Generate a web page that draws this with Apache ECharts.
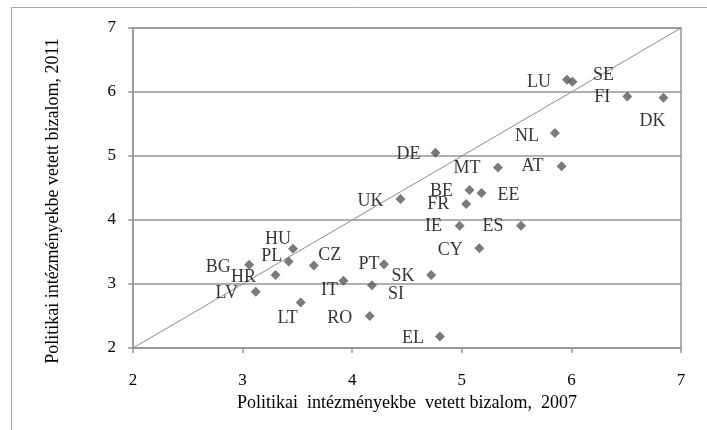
<!DOCTYPE html>
<html>
<head>
<meta charset="utf-8">
<script src="https://cdn.jsdelivr.net/npm/echarts@6/dist/echarts.min.js"></script>
<style>
  html, body { margin: 0; padding: 0; background: #fff; }
  #chart { width: 707px; height: 430px; }
</style>
</head>
<body>
<div id="chart"></div>
<script>
const countries = ["DE", "MT", "BE", "EE", "FR", "UK", "IE", "ES", "CY", "AT", "NL", "LU", "SE", "FI", "DK",
  "HU", "PL", "CZ", "PT", "SK", "SI", "IT", "HR", "BG", "LV", "LT", "RO", "EL"];
const trust2007 = [4.76, 5.33, 5.07, 5.18, 5.04, 4.44, 4.98, 5.54, 5.16, 5.91, 5.85, 5.96, 6.01, 6.51, 6.84,
  3.46, 3.42, 3.65, 4.29, 4.72, 4.18, 3.92, 3.30, 3.06, 3.12, 3.53, 4.16, 4.80];
const trust2011 = [5.05, 4.82, 4.47, 4.42, 4.25, 4.33, 3.91, 3.91, 3.56, 4.84, 5.36, 6.19, 6.16, 5.93, 5.91,
  3.55, 3.35, 3.29, 3.31, 3.14, 2.98, 3.05, 3.14, 3.30, 2.88, 2.71, 2.50, 2.18];
const diagonal = [[2, 2], [7, 7]];

// label offsets (px) from each marker, hand placed like the original
const labelDx = [-27, -31, -28, 27, -28, -30, -26, -28, -29, -29, -28, -28, 31, -25, -11,
  -15, -17, 16, -15, -28, 24, -14, -32, -31, -29, -13, -30, -27];
const labelDy = [1, 1, 1, 2, 0, 2, 1, 1, 2, 0, 3, 2, -6, 1, 24,
  -10, -5, -10, 0, 1, 9, 9, 2, 2, 2, 16, 2, 2];

const font = "'Liberation Serif', 'Times New Roman', serif";
const gray = "#969696";

const points = countries.map((c, i) => ({
  name: c,
  value: [trust2007[i], trust2011[i]],
  label: { offset: [labelDx[i], labelDy[i]] },
}));

const chart = echarts.init(document.getElementById("chart"));
chart.setOption({
  animation: false,
  textStyle: { fontFamily: font, color: "#000" },
  graphic: [
    {
      type: "rect",
      shape: { x: 11.5, y: 7.5, width: 720, height: 450 },
      style: { fill: "none", stroke: "#a6a6a6", lineWidth: 1 },
      silent: true,
    },
  ],
  grid: {
    left: 133,
    right: 26,
    top: 28,
    bottom: 82,
    show: true,
    borderColor: gray,
    borderWidth: 1.5,
  },
  xAxis: {
    type: "value",
    min: 2,
    max: 7,
    interval: 1,
    name: "Politikai  intézményekbe  vetett bizalom,  2007",
    nameLocation: "middle",
    nameGap: 40,
    nameTextStyle: { fontFamily: font, fontSize: 18, fontWeight: "normal", color: "#000" },
    axisLine: { show: true, lineStyle: { color: gray, width: 1.5 } },
    axisTick: { show: true, length: 5, lineStyle: { color: gray, width: 1.5 } },
    axisLabel: { fontFamily: font, fontSize: 17, color: "#000", margin: 24 },
    splitLine: { show: false },
  },
  yAxis: {
    type: "value",
    min: 2,
    max: 7,
    interval: 1,
    name: "Politikai intézményekbe vetett bizalom, 2011",
    nameLocation: "middle",
    nameGap: 71,
    nameTextStyle: { fontFamily: font, fontSize: 18, fontWeight: "normal", color: "#000", padding: [0, 26, 0, 0] },
    axisLine: { show: true, lineStyle: { color: gray, width: 1.5 } },
    axisTick: { show: true, length: 5, lineStyle: { color: gray, width: 1.5 } },
    axisLabel: { fontFamily: font, fontSize: 17, color: "#000", margin: 17 },
    splitLine: { show: true, lineStyle: { color: gray, width: 1.5 } },
  },
  series: [
    {
      type: "line",
      data: diagonal,
      symbol: "none",
      silent: true,
      z: 1,
      lineStyle: { color: "#8c8c8c", width: 1 },
    },
    {
      type: "scatter",
      data: points,
      symbol: "diamond",
      symbolSize: 10,
      z: 3,
      itemStyle: { color: "#595959" },
      label: {
        show: true,
        position: "inside",
        formatter: "{b}",
        fontFamily: font,
        fontSize: 18,
        color: "#000",
        align: "center",
        verticalAlign: "middle",
      },
    },
  ],
});
</script>
</body>
</html>
